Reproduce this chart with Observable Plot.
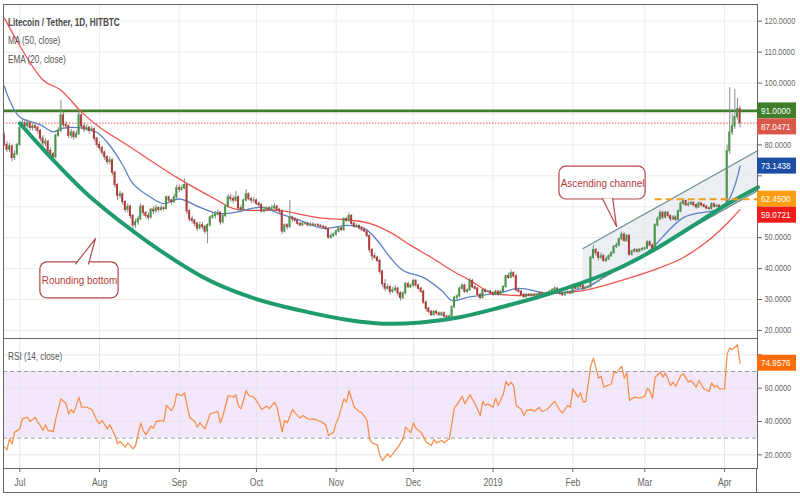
<!DOCTYPE html>
<html>
<head>
<meta charset="utf-8">
<script src="https://cdn.jsdelivr.net/npm/d3@7"></script>
<script src="https://cdn.jsdelivr.net/npm/@observablehq/plot@0.6"></script>
<style>
  body { margin: 0; background: #fff; }
  #wrap { position: relative; width: 800px; height: 500px; overflow: hidden; background: #fff;
          font-family: "Liberation Sans", Arial, sans-serif; }
  #main { position: absolute; left: 0; top: 0; }
  #rsi { position: absolute; left: 0; top: 338px; }
  .lg { position: absolute; left: 8px; color: #555; font-size: 10.5px; white-space: nowrap; line-height: 12px;
        transform: scaleX(0.78); transform-origin: 0 0; }
  .ln { position: absolute; background: #666; }
</style>
</head>
<body>
<div id="wrap">
  <div id="main"></div>
  <div id="rsi"></div>
  <div class="lg" id="t0" style="top:16px;font-weight:bold;color:#4a4a4a"></div>
  <div class="lg" id="t1" style="top:34px"></div>
  <div class="lg" id="t2" style="top:53px"></div>
  <div class="lg" id="t3" style="top:350px"></div>
  <div class="ln" style="left:3px;top:468px;width:1px;height:25px"></div>
  <div class="ln" style="left:756px;top:468px;width:1px;height:25px"></div>
  <div class="ln" style="left:3px;top:492px;width:797px;height:1px"></div>
</div>
<script>
// ---------- text ----------
const titleText = "Litecoin / Tether, 1D, HITBTC";
const maLabel = "MA (50, close)";
const emaLabel = "EMA (20, close)";
const rsiLabel = "RSI (14, close)";

// ---------- time ----------
const day0 = Date.UTC(2018, 6, 1);            // day 0 = 2018-07-01
const dt = d => new Date(day0 + d * 864e5);
const monthTicks = ["2018-07-01","2018-08-01","2018-09-01","2018-10-01","2018-11-01","2018-12-01",
                    "2019-01-01","2019-02-01","2019-03-01","2019-04-01"].map(s => new Date(s + "T00:00:00Z"));
const monthLabels = ["Jul","Aug","Sep","Oct","Nov","Dec","2019","Feb","Mar","Apr"];
const priceTicks = [20,30,40,50,60,70,80,90,100,110,120];
const rsiTicks = [20,40,60,80];

// ---------- daily candles (first day = 2018-06-25) ----------
const firstDay = -6;
const firstOpen = 83;
const close = [
 80,78.5,79.5,75.8,77,80,85.5,87,86,87,
 85.5,86,85.5,84.5,82,80.5,81,78,77,76,
 83,84.5,89.5,86.5,86,83,84,82.5,83.5,89.5,
 86,85,85.5,84.5,85,82,80,79,77.5,76,
 74.5,75,71,67,63.5,64,61.5,59,60,57,
 54,55,56,60,58,57,56.5,59,58.5,59.5,
 59,59.5,59.3,63,62,61.5,63,66,65.5,66,
 67,58.5,56,55.5,54.5,53,54,53.5,52,54,
 56.5,57,57.5,58,55,57,60,63,62.5,62,
 63,59.5,59,62,64,62.5,62,62,61,60.5,
 58.5,59,59.5,59,59.5,60,59,58.5,52,54,
 53.5,56.5,56,55.5,54.5,54,54.5,54.5,54,54.2,
 54,54,53.8,53.5,53.3,52.8,50,50.5,51,52,
 53,52.5,56,55.5,57,54.5,53.5,53.8,53,52.5,
 52,50.5,46,44,43.5,42.5,39,35,33.5,34,
 32.5,33,33.5,32,30.5,32,35,34,34.5,36,
 34.5,33.5,32.5,29,27,26,25,26,25.5,25,
 25.5,24.5,24.2,24.5,27.5,30.5,31,33.5,34.5,32.5,
 33,36,34,33.5,31.5,30.5,33,32.5,32.5,32,
 31.5,32.5,31.5,32.5,34,37.5,37,38.5,37.5,33,
 32.5,31.5,30.8,31.5,31.2,31.5,31.3,31.5,32,31.5,
 31.7,32,32.5,33,33.5,32.5,31.8,31.4,32,32.3,
 32,34.5,33.5,34,34.5,33.5,33.8,34,43.5,46,
 45,43.5,44,42.5,43,44,45,47,47.5,49.5,
 51,49,50.5,44.5,45.5,46,45.5,46,46.3,46.5,
 48.5,47.5,46.5,54,56,58,56.5,58,57,56,
 56.5,55.8,58.5,61,61.8,60.5,60.8,61.2,60.5,59.8,
 61,60.5,60,59.5,59.3,60.8,60,60.3,59.8,60,
 60.4,78,84,86,89,91.5,87.0471
];
const high = [
 84,81,80.5,80,78,80.5,86.5,88.5,88,88,
 87.5,87,87,86,85,83,82,81.5,79,77.5,
 83.5,85.5,94.5,90.5,87.5,86.5,85,84.5,84.5,91,
 90,87,86.5,86,86,85.5,82.5,81,79.5,78,
 76.5,76,75.5,71.5,67.5,65,64.5,62,61,60.5,
 57.5,56,57,61,60.5,58.5,58,59.5,60,60.5,
 60,60.5,60,63.5,63.5,62.5,64,67,67,67,
 69,67.5,59,57,56,55,55,55,54,54.5,
 57,58,58.5,59,58.5,57.5,60.5,64,64,63.5,
 65,63.5,60.5,62.5,65.5,64.5,63,63,62.5,61.5,
 61,60,60,60,60.5,61,60.5,59.5,59,54.5,
 54.5,62,57,56.5,56,55,55,55,55,54.8,
 54.8,54.5,54.5,54.2,54,53.8,53,51.5,51.5,52.5,
 53.5,53.5,56.5,56.5,58,57.5,55,54.5,54,53.5,
 53,52.5,51,46.5,45,44,43,39.5,36.5,35,
 34.5,34,34.5,34,32.5,32.5,35.5,35.5,35,36.5,
 36.5,35,34,33,29.5,27.5,26.5,26.5,26.5,26,
 26,26,25,25,28,31,31.5,34,35,35,
 33.5,36.8,36.5,34.5,34,32,33.5,33.5,33,33,
 32.5,33,33,33,34.5,38,38.5,39.5,39,38,
 33.5,33,32,32,32,32,32,32,32.5,32.4,
 32.2,32.5,33,33.5,34.2,33.8,32.8,32.2,32.4,32.8,
 32.7,35,35,34.5,35.2,34.8,34.2,34.5,44,47.5,
 46.5,45.5,45,44.5,43.8,44.5,45.5,47.5,48.2,50,
 51.8,51.5,51.2,51,46,46.6,46.4,46.5,46.8,47,
 49,49,48,54.5,56.8,58.8,58.5,58.6,58.5,57.4,
 57.2,57,59,61.6,62.5,62.2,61.5,61.8,61.6,61,
 61.6,61.4,61,60.5,60,61.3,61.2,60.8,60.6,60.5,
 60.9,80,98.5,90,98,95,92.5
];
const low = [
 79.5,77.5,77.5,74.5,75,76.5,79.5,85,85,85.5,
 84.5,84.5,84.5,83.5,81,79.5,79.5,77,76,75,
 75.5,82.5,84,85.5,85,82,82,81.5,82,83,
 85,84,84.5,83.5,84,81,79,78,76.5,75,
 73.5,73.5,70,66,62,62.5,60.5,58,58,56,
 52.5,53,54,55.5,57,56,55.5,56,57.5,58,
 58,58.5,58.5,59,61,60.5,61,62.5,64.5,65,
 65.5,57.5,55,54.5,53.5,52,52.5,52.5,51,48,
 53.5,56,56,57,54,54.5,56.5,59.5,61.5,61,
 61.5,58.5,58,58.5,61.5,62,61,61,60.5,59.5,
 58,58,58.5,58.5,58.5,59,58.5,57.5,51,51.5,
 52.5,53,55,55,54,53.5,53.5,54,53.5,53.5,
 53.5,53.5,53.3,53,52.8,52.3,49.5,49.5,50,50.5,
 51.5,52,52,55,55,54,53,53,52.5,52,
 51.5,50,45,42.5,43,42,38,34,32.5,33,
 31.5,32,32.5,31,29.5,30,31.5,33.5,33.5,34,
 34,33,32,28.5,26,25.5,24.5,24.5,25,24.5,
 24.5,24,23,23.8,24.3,27,30,30.5,33,32,
 32,32.5,33.5,33,31,30,30.2,32,32,31.5,
 31,31.2,31,31.2,32,33.8,36.5,36.8,37,32.5,
 32,31,30.3,30.5,30.8,30.8,30.9,31,31.2,31.1,
 31.2,31.4,31.7,32.2,32.7,32,31.4,31,31.1,31.7,
 31.6,31.8,33.2,33.2,33.7,33.1,33.2,33.5,33.8,43,
 44,42.5,43,42,42,42.6,43.6,44.6,46.5,47,
 49,48.5,48.5,44,44,45,45,45.1,45.6,45.8,
 46.2,47,46,46.3,53.5,55.5,55.8,56,56.3,55.2,
 55.5,55.2,55.5,58,60.5,60,60,60.3,60,59.2,
 59.5,60,59.5,59,58.8,59,59.6,59.6,59.3,59.4,
 59.7,60.2,77,83,85,88,85.5
];

// ---------- indicators: [day, value] ----------
const ma50 = [[-6,121],[9,101],[16,97.7],[24,90.6],[31,85.7],[42,79.8],[61,69.5],[77,62],[83,59.4],[94,58.8],
 [101,58.8],[116,56.5],[129,55.6],[136,54.6],[144,51.7],[152,47.5],[160,43.6],[168,39.4],[175,36.2],[183,32.3],
 [194,31.3],[206,32],[219,32.9],[234,36.2],[246,39.4],[258,43.6],[269,50],[275,54.6],[280,59.0721]];
const ema20 = [[-6,99],[-4,94.5],[0,89],[8,86.5],[13,84.2],[16,85.3],[24,85.5],[30,84],[35,79.8],[40,73.5],
 [44,67.5],[51,63],[56,61],[62,62.5],[70,59.8],[77,57.8],[83,58.1],[94,59.8],[101,57.8],[109,55.6],
 [118,53],[127,54],[134,53],[139,49.1],[144,43.6],[149,39.4],[157,37.1],[164,32.9],[168,29.7],[174,30.7],
 [187,32.3],[194,33.6],[206,32],[219,33.6],[223,35],[231,39.5],[238,42],[245,46],[258,56.5],[274,60.4],[280,73.1438]];
const rsi14 = [[-6,24.6],[-5,23],[-4,29.6],[-3,26.6],[-2,33.6],[0,35.6],[1,41.6],[3,42.6],[4,40],[6,42.6],
 [7,39.6],[8,37.6],[9,34.6],[10,38],[11,34.6],[13,34],[14,41.6],[16,53.6],[18,50.6],[19,44.6],
 [20,47.2],[21,45.2],[23,54.6],[24,48.6],[26,48.6],[28,47.2],[30,40.6],[31,38.6],[32,40.6],[34,35.6],
 [35,38],[37,31.6],[38,26.6],[39,28],[41,24.6],[42,27.2],[44,23.6],[45,25.6],[47,39.2],[48,34.6],
 [49,32],[51,37.2],[52,36],[53,40],[55,40.6],[56,40],[57,49.6],[59,46.6],[60,49.6],[61,56.6],
 [63,55.6],[64,57.2],[66,42.6],[68,40],[69,36.6],[70,39.2],[72,35.6],[74,44.6],[76,45.6],[77,46],
 [78,39.2],[79,43.6],[81,55.6],[83,54.6],[84,56],[85,49.2],[86,47.6],[88,58.6],[89,55.6],[91,54.6],
 [92,52.6],[94,47.2],[96,49.2],[97,47.6],[99,51.6],[100,48.6],[102,34],[103,40.6],[104,39.2],[106,47.2],
 [107,45.2],[109,42],[110,43.6],[112,41.6],[115,41.2],[117,40],[119,38],[120,31.6],[122,33.6],[123,39.2],
 [124,42.6],[126,53.6],[127,51.6],[128,58.6],[130,48.6],[132,46],[133,45.2],[135,40.6],[136,29.6],[137,27.2],
 [139,26],[140,19.6],[141,16.6],[143,20.6],[144,18.6],[145,20.6],[146,22.6],[147,24.6],[149,29.6],[150,36.6],
 [152,33.2],[153,39.2],[154,36],[156,33.6],[158,27.6],[160,25.6],[161,29.2],[162,27.2],[164,28.6],[165,27.2],
 [167,29.6],[169,48.6],[170,50],[172,55.2],[173,50.6],[175,56],[177,50.6],[179,43.6],[180,52],[181,49.6],
 [182,50.6],[184,48.6],[185,54],[186,49.6],[188,56.6],[189,64],[190,61.6],[191,63.6],[192,61.2],[193,49.6],
 [195,47.2],[196,43.6],[197,46.6],[199,47.2],[200,46],[202,48.6],[203,46],[205,47.2],[207,50.6],[208,52],
 [210,46.6],[211,45.2],[213,49.6],[214,48.6],[215,59.6],[217,54.6],[218,57.2],[219,51.6],[220,52],[222,73.6],
 [223,78],[225,66],[226,67.2],[227,60.6],[230,62.6],[231,69.6],[232,69.2],[234,73.2],[235,66],[236,69.2],
 [237,52.6],[239,54.6],[241,54],[243,55.2],[244,60],[245,58],[246,54],[247,66.6],[249,69.6],[250,66.6],
 [251,69.2],[253,61.6],[254,63.6],[255,61.2],[257,67.6],[258,68.6],[260,63.6],[261,64.6],[263,60.6],[264,64.6],
 [266,59.6],[268,58],[269,63.2],[270,60.6],[271,61.6],[272,59.6],[274,59.6],[275,80.6],[276,84],[277,83.2],
 [279,86],[280,74.9576]];

// ---------- drawn annotations (day, price) ----------
const roundingBottom = [[0,87],[29,62],[70,37.8],[90,30.7],[109,26.5],[129,23.2],[141,22.2],[156,22.6],
 [171,24.3],[187,27.5],[206,31.9],[232,39.8],[246,45.8],[265,55.6],[275,60.8],[287,66.3]];
const channelDays = [219, 287];
const channelUpper = [46.5, 78.2];
const channelLower = [33.3, 65.3];
const resistance = 91.0;
const lastPrice = 87.0471;
const supportLevel = 62.45;
const supportStartDay = 247;
const maLast = 59.0721, emaLast = 73.1438, rsiLast = 74.9576;
const calloutText = ["Rounding bottom", "Ascending channel"];
const calloutBox = [[8, 38.4, 30.35, 42.0], [209.8, 243.3, 62.35, 73.0]];   // day1, day2, priceLow, priceHigh
const calloutPointer = [[[21.7, 41.5],[29.4, 49.7],[26.7, 41.5]], [[226.5, 62.7],[232, 53.6],[230.5, 62.7]]];

// ---------- build rows ----------
const xDomain = [dt(-6.34), dt(286.8)];
const candles = close.map((c, i) => {
  const d = firstDay + i, o = i ? close[i - 1] : firstOpen;
  return {date: dt(d), x1: dt(d - 0.38), x2: dt(d + 0.38), open: o, close: c,
          lo: Math.min(o, c), hi: Math.max(o, c), high: high[i], low: low[i], up: c >= o};
});
const toRows = arr => arr.map(([d, v]) => ({date: dt(d), v}));
const channel = channelDays.map((d, i) => ({date: dt(d), upper: channelUpper[i], lower: channelLower[i]}));
const boxes = calloutBox.map(([a, b, lo, hi], i) => ({x1: dt(a), x2: dt(b), y1: lo, y2: hi,
  cx: dt((a + b) / 2), cy: (lo + hi) / 2, text: calloutText[i]}));
const pointers = calloutPointer.flatMap((pts, k) => pts.map(([d, p]) => ({id: k, date: dt(d), v: p})));

const FONT = "'Liberation Sans', Arial, sans-serif";
const baseStyle = {fontFamily: FONT, fontSize: "10px", color: "#555", background: "transparent", overflow: "visible"};
const CALLOUT = "#b4484a";
const AXIS_FS = 8.6;

const main = Plot.plot({
  width: 800, height: 338, marginTop: 4, marginBottom: 0, marginLeft: 3, marginRight: 43,
  style: baseStyle,
  x: {type: "utc", domain: xDomain, axis: null},
  y: {domain: [17.4, 125.4]},
  marks: [
    Plot.ruleY(priceTicks, {stroke: "#ececec"}),
    Plot.ruleX(monthTicks, {stroke: "#ececec"}),
    Plot.areaY(channel, {x: "date", y1: "lower", y2: "upper", fill: "#dde3e9", fillOpacity: 0.6}),
    Plot.ruleY([resistance], {stroke: "#3f7d2a", strokeWidth: 2.6}),
    Plot.ruleY([lastPrice], {stroke: "#d9534f", strokeDasharray: "1.5 1.5"}),
    Plot.line(toRows(ma50), {x: "date", y: "v", stroke: "#ef5350", strokeWidth: 1.3, curve: "catmull-rom"}),
    Plot.line(toRows(ema20), {x: "date", y: "v", stroke: "#5b80c6", strokeWidth: 1.3, curve: "catmull-rom"}),
    Plot.ruleX(candles, {x: "date", y1: "low", y2: "high", stroke: "#8a8a8a", strokeWidth: 1}),
    Plot.rect(candles.filter(d => d.up), {x1: "x1", x2: "x2", y1: "lo", y2: "hi", fill: "#479647", insetTop: -0.6, insetBottom: -0.6}),
    Plot.rect(candles.filter(d => !d.up), {x1: "x1", x2: "x2", y1: "lo", y2: "hi", fill: "#b23a3a", insetTop: -0.6, insetBottom: -0.6}),
    Plot.line(channel, {x: "date", y: "upper", stroke: "#6f8c90", strokeWidth: 1.2}),
    Plot.line(channel, {x: "date", y: "lower", stroke: "#6f8c90", strokeWidth: 1.2}),
    Plot.line(toRows(roundingBottom), {x: "date", y: "v", stroke: "#1f9b6c", strokeWidth: 4, curve: "catmull-rom"}),
    Plot.ruleY([{y: supportLevel, x1: dt(supportStartDay), x2: xDomain[1]}],
      {y: "y", x1: "x1", x2: "x2", stroke: "#f5a01a", strokeWidth: 2, strokeDasharray: "7 4"}),
    Plot.rect(boxes, {x1: "x1", x2: "x2", y1: "y1", y2: "y2", fill: "white", stroke: CALLOUT, strokeWidth: 1.2, rx: 7}),
    Plot.line(pointers, {x: "date", y: "v", z: "id", fill: "white", stroke: CALLOUT, strokeWidth: 1.2}),
    Plot.text(boxes, {x: "cx", y: "cy", text: "text", fill: "#b03a3a", fontSize: 11.5}),
    Plot.axisY(priceTicks, {anchor: "right", tickSize: 4, tickPadding: 3, tickFormat: d => d.toFixed(4),
      color: "#666", fontSize: AXIS_FS}),
    Plot.frame({stroke: "#666"})
  ]
});
document.getElementById("main").appendChild(main);

// condense chart texts horizontally (the reference uses a narrow face)
function squeeze(svg, f) {
  svg.querySelectorAll("text").forEach(t => {
    if (t.querySelector("tspan")) return;
    const L = t.getComputedTextLength();
    if (L > 0) { t.setAttribute("textLength", (L * f).toFixed(1)); t.setAttribute("lengthAdjust", "spacingAndGlyphs"); }
  });
}

// value tags on the price scale; axis labels that sit under a tag are hidden, as in the reference
function addTags(svg, tags, x0) {
  const ys = svg.scale("y");
  const g = d3.select(svg).append("g");
  const items = tags.map(t => ({...t, cy: ys.apply(t.v)})).sort((a, b) => a.cy - b.cy);
  for (let i = 1; i < items.length; i++) if (items[i].cy < items[i - 1].cy + 16) items[i].cy = items[i - 1].cy + 16;
  for (const t of items) {
    g.append("rect").attr("x", x0).attr("y", t.cy - 8).attr("width", 39).attr("height", 16).attr("fill", t.color);
    g.append("text").attr("x", x0 + 4).attr("y", t.cy).attr("dy", "0.35em").attr("fill", "#fff")
      .attr("text-anchor", "start").attr("font-size", 9.5).attr("font-family", FONT).text(t.v.toFixed(4));
  }
  svg.querySelectorAll("g[aria-label='y-axis tick label'] text").forEach(el => {
    const b = el.getBBox();
    const m = el.getCTM();
    const top = b.y + (m ? m.f : 0), bottom = top + b.height;
    if (items.some(t => bottom > t.cy - 8 + 1 && top < t.cy + 8 - 1)) el.style.display = "none";
  });
}
addTags(main, [
  {v: resistance, color: "#3f7d2a"},
  {v: lastPrice, color: "#d9584b"},
  {v: emaLast, color: "#1c4ea6"},
  {v: supportLevel, color: "#ff9d12"},
  {v: maLast, color: "#f01c1c"}
], 757);

const rsiPlot = Plot.plot({
  width: 800, height: 162, marginTop: 0, marginBottom: 32, marginLeft: 3, marginRight: 43,
  style: baseStyle,
  x: {type: "utc", domain: xDomain},
  y: {domain: [11.8, 89.8]},
  marks: [
    Plot.rect([{x1: xDomain[0], x2: xDomain[1], lo: 30, hi: 70}], {x1: "x1", x2: "x2", y1: "lo", y2: "hi", fill: "#f3e7fc"}),
    Plot.ruleY(rsiTicks, {stroke: "#e6e6e6"}),
    Plot.ruleX(monthTicks, {stroke: "#e6e6e6"}),
    Plot.ruleY([30, 70], {stroke: "#9c9c9c", strokeDasharray: "4 3"}),
    Plot.line(toRows(rsi14), {x: "date", y: "v", stroke: "#f5914e", strokeWidth: 1.3}),
    Plot.axisY(rsiTicks, {anchor: "right", tickSize: 4, tickPadding: 3, tickFormat: d => d.toFixed(4),
      color: "#666", fontSize: AXIS_FS}),
    Plot.axisX(monthTicks, {anchor: "bottom", tickSize: 4, tickPadding: 6, color: "#666", fontSize: 10,
      tickFormat: d => monthLabels[monthTicks.findIndex(t => +t === +d)]}),
    Plot.frame({stroke: "#666"})
  ]
});
document.getElementById("rsi").appendChild(rsiPlot);
addTags(rsiPlot, [{v: rsiLast, color: "#ff6d0a"}], 757);

squeeze(main, 0.86);
squeeze(rsiPlot, 0.86);

document.getElementById("t0").textContent = titleText;
document.getElementById("t1").textContent = maLabel;
document.getElementById("t2").textContent = emaLabel;
document.getElementById("t3").textContent = rsiLabel;
</script>
</body>
</html>
